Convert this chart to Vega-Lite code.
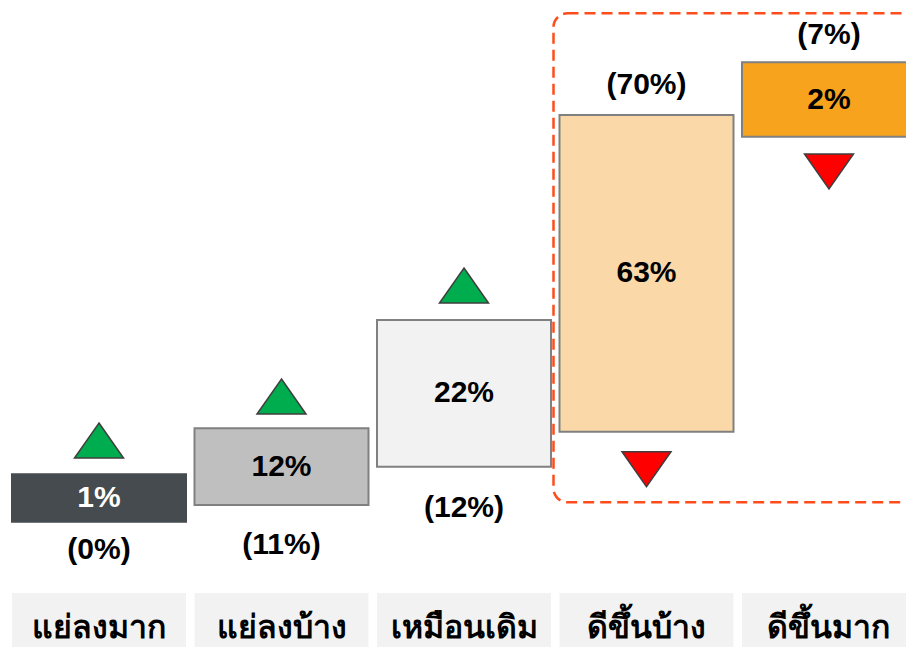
{
  "$schema": "https://vega.github.io/schema/vega-lite/v6.json",
  "width": 928,
  "height": 647,
  "padding": 0,
  "autosize": {"type": "none"},
  "background": "white",
  "config": {"view": {"stroke": null}},
  "data": {
    "values": [
      {"cat": "แย่ลงมาก", "val": "1%", "prev": "(0%)", "top": 34.54, "bottom": 25.06, "mid": 29.8, "tri": 41.3, "dir": "up", "laby": 19.4},
      {"cat": "แย่ลงบ้าง", "val": "12%", "prev": "(11%)", "top": 43.74, "bottom": 28.4, "mid": 36.06, "tri": 50.1, "dir": "up", "laby": 20.4},
      {"cat": "เหมือนเดิม", "val": "22%", "prev": "(12%)", "top": 65.4, "bottom": 36.06, "mid": 50.74, "tri": 72.3, "dir": "up", "laby": 27.8},
      {"cat": "ดีขึ้นบ้าง", "val": "63%", "prev": "(70%)", "top": 106.4, "bottom": 43.06, "mid": 74.74, "tri": 35.56, "dir": "down", "laby": 112.4},
      {"cat": "ดีขึ้นมาก", "val": "2%", "prev": "(7%)", "top": 116.94, "bottom": 102.06, "mid": 109.5, "tri": 95.1, "dir": "down", "laby": 122.4}
    ]
  },
  "encoding": {
    "x": {
      "field": "cat",
      "type": "nominal",
      "sort": null,
      "axis": null,
      "scale": {"domain": ["แย่ลงมาก", "แย่ลงบ้าง", "เหมือนเดิม", "ดีขึ้นบ้าง", "ดีขึ้นมาก"], "paddingInner": 0.0466, "paddingOuter": 0.0658}
    }
  },
  "layer": [
    {
      "data": {"values": [{"from": "ดีขึ้นบ้าง", "to": "ดีขึ้นมาก", "top": 126.74, "bottom": 28.94}]},
      "mark": {"type": "rect", "fill": "white", "fillOpacity": 0, "stroke": "#ff4c1c", "strokeWidth": 2.5, "strokeDash": [11, 6], "cornerRadius": 14, "xOffset": -6, "x2Offset": 30},
      "encoding": {
        "x": {"field": "from", "type": "nominal", "sort": null, "bandPosition": 0, "axis": null},
        "x2": {"field": "to", "bandPosition": 1},
        "y": {"field": "top", "type": "quantitative", "axis": null, "scale": {"domain": [0, 129.4], "nice": false, "zero": false}},
        "y2": {"field": "bottom"}
      }
    },
    {
      "mark": {"type": "rect", "strokeWidth": 2},
      "encoding": {
        "y": {"field": "top", "type": "quantitative"},
        "y2": {"field": "bottom"},
        "fill": {
          "field": "cat",
          "type": "nominal",
          "legend": null,
          "scale": {
            "domain": ["แย่ลงมาก", "แย่ลงบ้าง", "เหมือนเดิม", "ดีขึ้นบ้าง", "ดีขึ้นมาก"],
            "range": ["#454b4f", "#bfbfbf", "#f2f2f2", "#fad8a8", "#f8a31d"]
          }
        },
        "stroke": {
          "condition": {"test": "datum.cat === 'แย่ลงมาก'", "value": "#454b4f"},
          "value": "#808080"
        }
      }
    },
    {
      "mark": {"type": "point", "filled": true, "opacity": 1, "size": 2401, "strokeWidth": 1.5, "stroke": "#3f3f3f"},
      "encoding": {
        "y": {"field": "tri", "type": "quantitative"},
        "shape": {
          "condition": {"test": "datum.dir === 'up'", "value": "M0,-0.714L1,0.714L-1,0.714Z"},
          "value": "M-1,-0.714L1,-0.714L0,0.714Z"
        },
        "fill": {
          "condition": {"test": "datum.dir === 'up'", "value": "#00ad4e"},
          "value": "#ff0000"
        }
      }
    },
    {
      "mark": {"type": "text", "font": "Liberation Sans", "fontWeight": "bold", "fontSize": 30, "baseline": "middle", "align": "center"},
      "encoding": {
        "y": {"field": "mid", "type": "quantitative"},
        "text": {"field": "val"},
        "color": {
          "condition": {"test": "datum.cat === 'แย่ลงมาก'", "value": "white"},
          "value": "black"
        }
      }
    },
    {
      "mark": {"type": "text", "font": "Liberation Sans", "fontWeight": "bold", "fontSize": 30, "baseline": "middle", "align": "center", "color": "black"},
      "encoding": {
        "y": {"field": "laby", "type": "quantitative"},
        "text": {"field": "prev"}
      }
    },
    {
      "mark": {"type": "rect", "fill": "#f2f2f2"},
      "encoding": {
        "y": {"datum": 10.8, "type": "quantitative"},
        "y2": {"datum": 0}
      }
    },
    {
      "mark": {"type": "text", "font": "Noto Sans", "fontWeight": "bold", "fontSize": 32, "baseline": "alphabetic", "align": "center", "color": "black"},
      "encoding": {
        "y": {"datum": 1.8, "type": "quantitative"},
        "text": {"field": "cat"}
      }
    }
  ]
}
